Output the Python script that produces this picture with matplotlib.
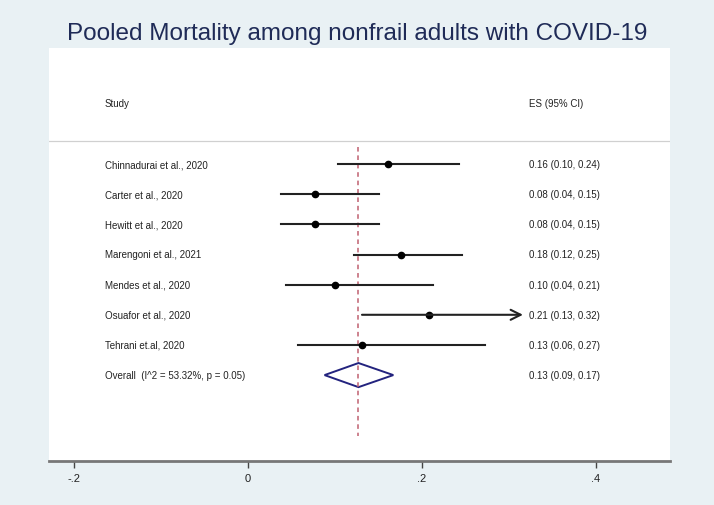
import matplotlib.pyplot as plt
from matplotlib.patches import Polygon

plt.rcParams['font.family'] = ['Liberation Sans', 'DejaVu Sans']

# Data
studies = ['Chinnadurai et al., 2020', 'Carter et al., 2020', 'Hewitt et al., 2020',
           'Marengoni et al., 2021', 'Mendes et al., 2020', 'Osuafor et al., 2020',
           'Tehrani et.al, 2020']
es = [0.161, 0.077, 0.077, 0.176, 0.100, 0.208, 0.131]
ci_lo = [0.103, 0.038, 0.038, 0.122, 0.044, 0.131, 0.058]
ci_hi = [0.243, 0.150, 0.150, 0.246, 0.213, 0.316, 0.272]
es_text = ['0.16 (0.10, 0.24)', '0.08 (0.04, 0.15)', '0.08 (0.04, 0.15)',
           '0.18 (0.12, 0.25)', '0.10 (0.04, 0.21)', '0.21 (0.13, 0.32)',
           '0.13 (0.06, 0.27)']
overall_label = 'Overall  (I^2 = 53.32%, p = 0.05)'
overall_es = 0.127
overall_lo = 0.088
overall_hi = 0.167
overall_text = '0.13 (0.09, 0.17)'
arrow_rows = ['Osuafor et al., 2020']
xticks = [-0.2, 0, 0.2, 0.4]
xticklabels = ['-.2', '0', '.2', '.4']

W, H = 714, 506
bg = '#e9f1f4'
fig = plt.figure(figsize=(W / 100, H / 100), dpi=100, facecolor=bg)
# white plot region: x 49..670 px, y 49..462 px
ax = fig.add_axes([49 / W, (H - 462) / H, (670 - 49) / W, (462 - 49) / H])
ax.set_facecolor('white')

ax.set_xlim(-0.2287, 0.485)
ax.set_ylim(9.85, -3.85)

# header
ax.text(0.0902, -2.02, 'Study', transform=ax.get_yaxis_transform(), fontsize=7,
        va='center', ha='left', color='#222222')
ax.text(0.773, -2.02, 'ES (95% CI)', transform=ax.get_yaxis_transform(), fontsize=7,
        va='center', ha='left', color='#222222')
ax.axhline(-0.76, color='#d0d0d0', lw=0.9)

# reference line at pooled estimate
ax.plot([overall_es, overall_es], [-0.57, 9.03], color='#c06070', lw=1.1,
        linestyle=(0, (3, 2.5)))

for i, name in enumerate(studies):
    if name in arrow_rows:
        ax.annotate('', xy=(ci_hi[i], i), xytext=(ci_lo[i], i),
                    arrowprops=dict(arrowstyle='->', lw=1.5, color='#222222',
                                    mutation_scale=18, shrinkA=0, shrinkB=0))
    else:
        ax.plot([ci_lo[i], ci_hi[i]], [i, i], color='#222222', lw=1.5)
    ax.plot(es[i], i, 'o', color='black', markersize=4.5)
    ax.text(0.0902, i, name, transform=ax.get_yaxis_transform(), fontsize=7,
            va='center', ha='left', color='#222222')
    ax.text(0.773, i, es_text[i], transform=ax.get_yaxis_transform(), fontsize=7,
            va='center', ha='left', color='#222222')

yo = len(studies)
diamond = Polygon([[overall_lo, yo], [overall_es, yo - 0.4], [overall_hi, yo],
                   [overall_es, yo + 0.4]], closed=True, fill=False,
                  edgecolor='#23237e', lw=1.4)
ax.add_patch(diamond)
ax.text(0.0902, yo, overall_label, transform=ax.get_yaxis_transform(), fontsize=7,
        va='center', ha='left', color='#222222')
ax.text(0.773, yo, overall_text, transform=ax.get_yaxis_transform(), fontsize=7,
        va='center', ha='left', color='#222222')

for s in ['top', 'left', 'right']:
    ax.spines[s].set_visible(False)
ax.spines['bottom'].set_color('#777777')
ax.spines['bottom'].set_linewidth(2)
ax.set_yticks([])
ax.set_xticks(xticks)
ax.set_xticklabels(xticklabels, fontsize=8, color='#222222')
ax.tick_params(axis='x', direction='out', length=5, width=1, color='#444444', pad=4)

fig.text(0.5, (H - 34) / H, 'Pooled Mortality among nonfrail adults with COVID-19',
         ha='center', va='center', fontsize=17.5, color='#1f2b57')

fig.savefig('out.png', dpi=100, facecolor=bg)
